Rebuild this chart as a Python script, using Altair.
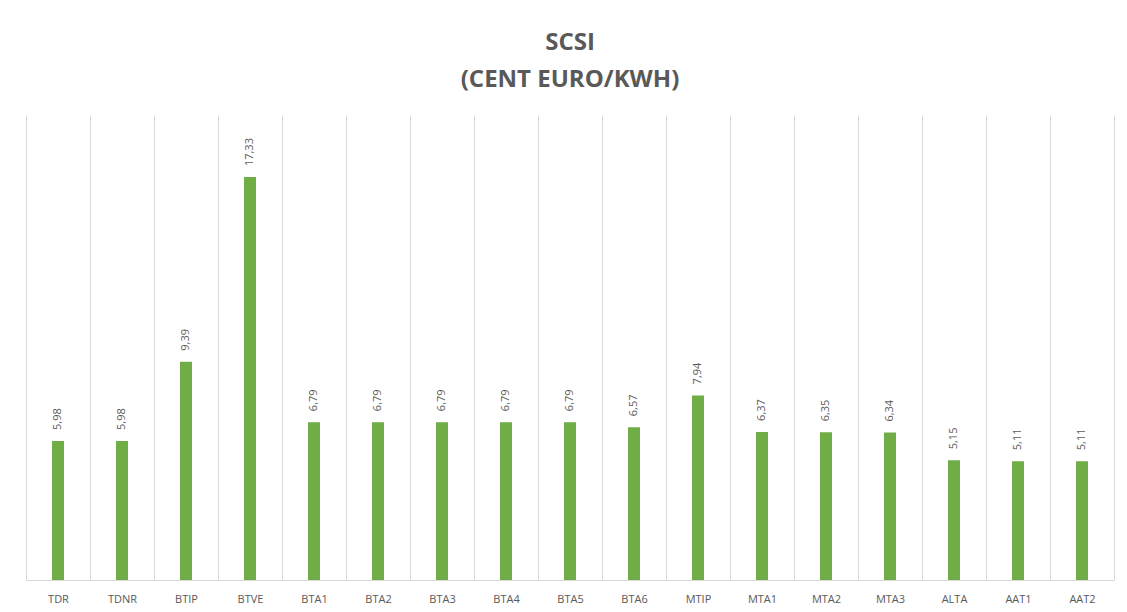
import altair as alt
import pandas as pd

categories = ["TDR", "TDNR", "BTIP", "BTVE", "BTA1", "BTA2", "BTA3", "BTA4", "BTA5",
              "BTA6", "MTIP", "MTA1", "MTA2", "MTA3", "ALTA", "AAT1", "AAT2"]
values = [5.98, 5.98, 9.39, 17.33, 6.79, 6.79, 6.79, 6.79, 6.79,
          6.57, 7.94, 6.37, 6.35, 6.34, 5.15, 5.11, 5.11]

df = pd.DataFrame({
    "cat": categories,
    "val": values,
    "lbl": [f"{v:.2f}".replace(".", ",") for v in values],
})

x = alt.X("cat:N", sort=categories, title=None,
          scale=alt.Scale(paddingInner=0, paddingOuter=0),
          axis=alt.Axis(grid=True, tickBand="extent", ticks=False, labelAngle=0,
                        gridColor="#d9d9d9", domainColor="#d9d9d9", labelPadding=13,
                        labelFont="Open Sans", labelFontSize=11, labelColor="#595959"))
y = alt.Y("val:Q", title=None, scale=alt.Scale(domain=[0, 20], nice=False), axis=None)

bars = alt.Chart(df).mark_bar(color="#70AD47", size=12).encode(x=x, y=y)
labels = alt.Chart(df).mark_text(angle=270, align="left", baseline="middle", dx=11,
                                 font="Open Sans", fontSize=11, color="#595959").encode(
    x=x, y=y, text="lbl:N")

chart = (bars + labels).properties(
    width=1088, height=465,
    title=alt.TitleParams(["SCSI", "(CENT EURO/KWH)"], font="Open Sans", fontSize=24,
                          fontWeight="bold", color="#595959", lineHeight=37,
                          anchor="middle", offset=23),
    autosize=alt.AutoSizeParams(type="none"),
    padding={"left": 18, "top": 107, "right": 5, "bottom": 24},
).configure_view(stroke=None)

chart.save("out.html", embed_options={"renderer": "svg", "actions": False})
